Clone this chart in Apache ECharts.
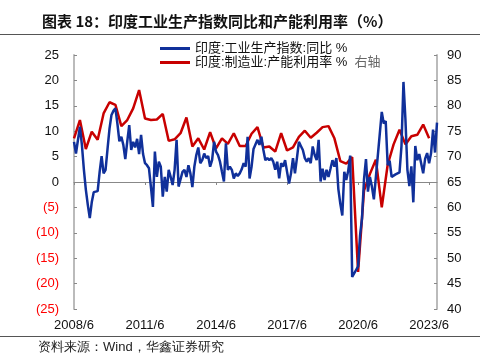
<!DOCTYPE html>
<html>
<head>
<meta charset="utf-8">
<script src="https://cdn.jsdelivr.net/npm/echarts@6/dist/echarts.min.js"></script>
<style>
html,body{margin:0;padding:0;background:#fff;}
#c{width:487px;height:363px;}
</style>
</head>
<body>
<div id="c"></div>
<script>
// Monthly categories from 2008/6 to 2023/10
var startYear = 2008, startMonth = 6, monthCount = 185;
var categories = [];
for (var k = 0; k < monthCount; k++) {
  var m = startMonth - 1 + k;
  categories.push((startYear + Math.floor(m / 12)) + '/' + (m % 12 + 1));
}

// 印度:工业生产指数:同比 % (monthly, left axis)
var iipYoY = [
  7.9, 5.6, 5.3, 10.9, 7.3, 2.5, -1.5, -4.5, -7.1, -4.0, -2.0, -2.0,
  -1.8, 2.0, 5.1, 1.7, 2.4, 6.5, 10.5, 13.2, 14.0, 14.5, 11.5, 8.0,
  8.9, 7.3, 4.5, 8.0, 11.2, 6.3, 7.9, 6.8, 8.5, 5.5, 9.3, 5.5,
  3.7, 3.3, 2.7, -1.0, -4.9, 6.0, 1.0, 4.0, 3.0, -2.9, 1.0, -1.9,
  2.4, 1.0, -0.6, 2.4, 8.3, -0.9, -0.6, 2.0, 2.4, 1.0, 3.3, 1.7,
  -1.0, 3.0, 5.3, 6.8, 3.7, 4.3, 5.6, 4.7, 5.1, 3.0, 4.3, 7.9,
  6.0, 5.3, 4.0, 2.0, 0.1, 7.6, 2.4, 3.0, 2.4, 0.7, 1.7, 1.2,
  1.7, 2.5, 3.7, 3.0, 8.9, 0.7, 3.0, 6.5, 6.3, 8.3, 7.3, 8.9,
  6.3, 4.3, 4.7, 4.3, 4.7, 4.0, 2.4, 4.0, 0.7, 3.7, 3.0, 4.3,
  2.0, -0.3, 1.7, 4.7, 1.7, 4.7, 7.9, 7.1, 6.3, 4.7, 4.0, 4.7,
  3.7, 7.0, 5.3, 4.3, 8.3, 0.1, 2.6, 0.4, 2.4, 1.0, 2.6, 4.3,
  3.0, 4.7, -1.4, -4.3, -6.6, 2.0, 0.4, 2.2, 5.2, -18.7, null, null,
  -16.6, -10.5, -7.1, 0.5, 4.5, -1.9, 1.0, -0.9, -3.4, null, null, null,
  13.8, 11.5, 12.0, 3.3, 4.2, 1.0, 0.7, 1.5, 1.7, 1.9, 7.1, 19.7,
  12.3, 2.4, -0.8, 3.1, -4.0, 7.1, 4.3, 5.5, 5.8, 1.7, 4.6, 5.7,
  3.7, 5.7, 10.3, 5.8, 11.7
];

// 印度:制造业:产能利用率 % (quarterly, every 3rd month from 2008/6, right axis)
var capUtilQuarterly = [
  73.6, 77.2, 71.5, 74.9, 73.3, 78.5, 80.7, 80.2, 76.0, 77.2, 79.5, 83.1,
  77.5, 77.2, 77.3, 78.4, 73.1, 73.4, 74.6, 77.7, 72.0, 73.6, 71.4, 74.8,
  71.6, 73.6, 72.5, 74.6, 72.1, 72.1, 74.5, 75.8, 71.8, 72.0, 71.0, 74.6,
  71.2, 71.8, 73.9, 75.1, 73.7, 74.7, 75.8, 76.0, 73.6, 69.1, 68.6, 69.9,
  47.3, 63.3, 66.6, 69.4, 60.0, 68.4, 72.4, 75.3, 72.4, 74.0, 74.3, 76.3,
  73.6
];
var quarterStep = 3;

var leftTicks = { min: -25, max: 25, interval: 5 };
var rightTicks = { min: 40, max: 90, interval: 5 };
var xLabelEvery = 36;

var capUtil = [];
for (var j = 0; j < monthCount; j++) capUtil.push(null);
capUtilQuarterly.forEach(function (v, q) { capUtil[q * quarterStep] = v; });

var nameBlue = '印度:工业生产指数:同比 %';
var nameRed = '印度:制造业:产能利用率 %';
var FONT = '"Liberation Sans", "Noto Sans CJK SC", sans-serif';

var chart = echarts.init(document.getElementById('c'), null, { renderer: 'canvas' });
chart.setOption({
  animation: false,
  backgroundColor: '#fff',
  textStyle: { fontFamily: FONT },
  title: {
    text: '图表 18：印度工业生产指数同比和产能利用率（%）',
    left: 37, top: 9,
    textStyle: { fontSize: 15, fontWeight: 'bold', color: '#111', fontFamily: '"Noto Sans CJK SC", sans-serif' }
  },
  graphic: [
    { type: 'line', shape: { x1: 0, y1: 34.5, x2: 480, y2: 34.5 }, style: { stroke: '#555', lineWidth: 1 } },
    { type: 'line', shape: { x1: 0, y1: 336.5, x2: 480, y2: 336.5 }, style: { stroke: '#555', lineWidth: 1 } },
    { type: 'text', left: 38, top: 341, style: { text: '资料来源：Wind，华鑫证券研究', fontSize: 13, fill: '#222', font: '13px "Noto Sans CJK SC", sans-serif' } }
  ],
  legend: {
    orient: 'vertical',
    left: 155, top: 37,
    itemWidth: 30, itemHeight: 3, itemGap: 1,
    icon: 'rect',
    textStyle: { fontSize: 13, color: '#111', fontFamily: FONT,
      rich: { g: { fontSize: 13, color: '#666', fontFamily: FONT } } },
    formatter: function (n) { return n === nameRed ? n + '  {g|右轴}' : n; },
    data: [nameBlue, nameRed]
  },
  grid: { left: 74, right: 50, top: 55, bottom: 54, containLabel: false },
  xAxis: [
    {
      type: 'category', data: categories, boundaryGap: false, position: 'bottom',
      axisLine: { show: false, onZero: false },
      axisTick: { show: false },
      axisLabel: { interval: xLabelEvery - 1, color: '#111', fontSize: 13, margin: 10, fontFamily: FONT, hideOverlap: false }
    },
    {
      type: 'category', data: categories, boundaryGap: false, position: 'bottom',
      axisLine: { show: true, onZero: true, onZeroAxisIndex: 0, lineStyle: { color: '#888', width: 1 } },
      axisTick: { show: true, interval: xLabelEvery - 1, length: 3, inside: false, lineStyle: { color: '#888' } },
      axisLabel: { show: false }
    }
  ],
  yAxis: [
    {
      type: 'value', min: leftTicks.min, max: leftTicks.max, interval: leftTicks.interval,
      axisLine: { show: true, lineStyle: { color: '#bbb', width: 2 } },
      axisTick: { show: true, inside: true, length: 3, lineStyle: { color: '#888' } },
      splitLine: { show: false },
      axisLabel: {
        fontSize: 13, margin: 15, fontFamily: FONT,
        color: function (v) { return Number(v) < 0 ? '#ff0000' : '#111'; },
        formatter: function (v) { return v < 0 ? '(' + (-v) + ')' : String(v); }
      }
    },
    {
      type: 'value', min: rightTicks.min, max: rightTicks.max, interval: rightTicks.interval,
      position: 'right',
      axisLine: { show: true, lineStyle: { color: '#bbb', width: 2 } },
      axisTick: { show: true, inside: true, length: 3, lineStyle: { color: '#888' } },
      splitLine: { show: false },
      axisLabel: { fontSize: 13, margin: 10, color: '#111', fontFamily: FONT }
    }
  ],
  series: [
    {
      name: nameBlue, type: 'line', xAxisIndex: 0, yAxisIndex: 0,
      data: iipYoY, connectNulls: true, showSymbol: false, symbol: 'none',
      lineStyle: { color: '#10309a', width: 2.5 }, itemStyle: { color: '#10309a' }, z: 3
    },
    {
      name: nameRed, type: 'line', xAxisIndex: 0, yAxisIndex: 1,
      data: capUtil, connectNulls: true, showSymbol: false, symbol: 'none',
      lineStyle: { color: '#c80000', width: 2.5 }, itemStyle: { color: '#c80000' }, z: 2
    }
  ]
});
</script>
</body>
</html>
